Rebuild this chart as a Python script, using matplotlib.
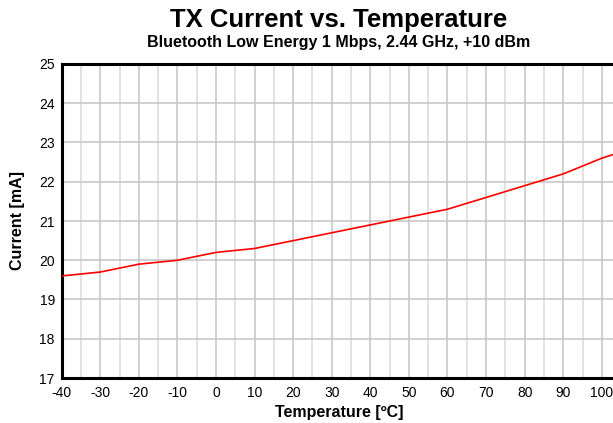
import matplotlib
matplotlib.use("Agg")
import matplotlib.pyplot as plt
from matplotlib.ticker import MultipleLocator

plt.rcParams["font.family"] = ["Liberation Sans", "DejaVu Sans"]
plt.rcParams["axes.unicode_minus"] = False

# temperature in degC, current in mA
temperature = [-40, -30, -20, -10, 0, 10, 20, 30, 40, 50, 60, 70, 80, 90, 100, 110]
current = [19.6, 19.7, 19.9, 20.0, 20.2, 20.3, 20.5, 20.7, 20.9, 21.1, 21.3, 21.6, 21.9, 22.2, 22.6, 22.92]

x_ticks = [-40, -30, -20, -10, 0, 10, 20, 30, 40, 50, 60, 70, 80, 90, 100]
y_ticks = [17, 18, 19, 20, 21, 22, 23, 24, 25]

W, H = 613, 423
fig = plt.figure(figsize=(W / 100, H / 100), dpi=100)
left, bottom, top = 61.7, 378, 64
ax = fig.add_axes([left / W, 1 - bottom / H, 1 - left / W, (bottom - top) / H])

ax.plot(temperature, current, color="#ff0000", lw=1.2, zorder=3)

ax.set_xlim(-40, 102.9)
ax.set_ylim(17, 25)
ax.set_xticks(x_ticks)
ax.set_yticks(y_ticks)
ax.xaxis.set_minor_locator(MultipleLocator(5))
ax.grid(which="major", color="#c4c4c4", lw=1.1)
ax.grid(which="minor", axis="x", color="#dadada", lw=1.1)
ax.set_axisbelow(True)
ax.tick_params(which="both", length=0, labelsize=10)
ax.tick_params(axis="x", pad=6)
ax.tick_params(axis="y", pad=5)

for side in ["left", "bottom", "top"]:
    ax.spines[side].set_linewidth(2.2)
    ax.spines[side].set_color("black")
ax.spines["right"].set_visible(False)

fig.text(339 / W, 1 - 412 / H, "Temperature [ºC]", ha="center", va="center",
         fontsize=11.5, fontweight="bold")
fig.text(18 / W, 1 - 221 / H, "Current [mA]", ha="center", va="center", rotation=90,
         fontsize=11.5, fontweight="bold")

fig.text(339 / W, 1 - 20 / H, "TX Current vs. Temperature", ha="center", va="center",
         fontsize=18.5, fontweight="bold")
fig.text(339 / W, 1 - 43 / H, "Bluetooth Low Energy 1 Mbps, 2.44 GHz, +10 dBm", ha="center",
         va="center", fontsize=11.5, fontweight="bold")

fig.savefig("out.png", dpi=100)
